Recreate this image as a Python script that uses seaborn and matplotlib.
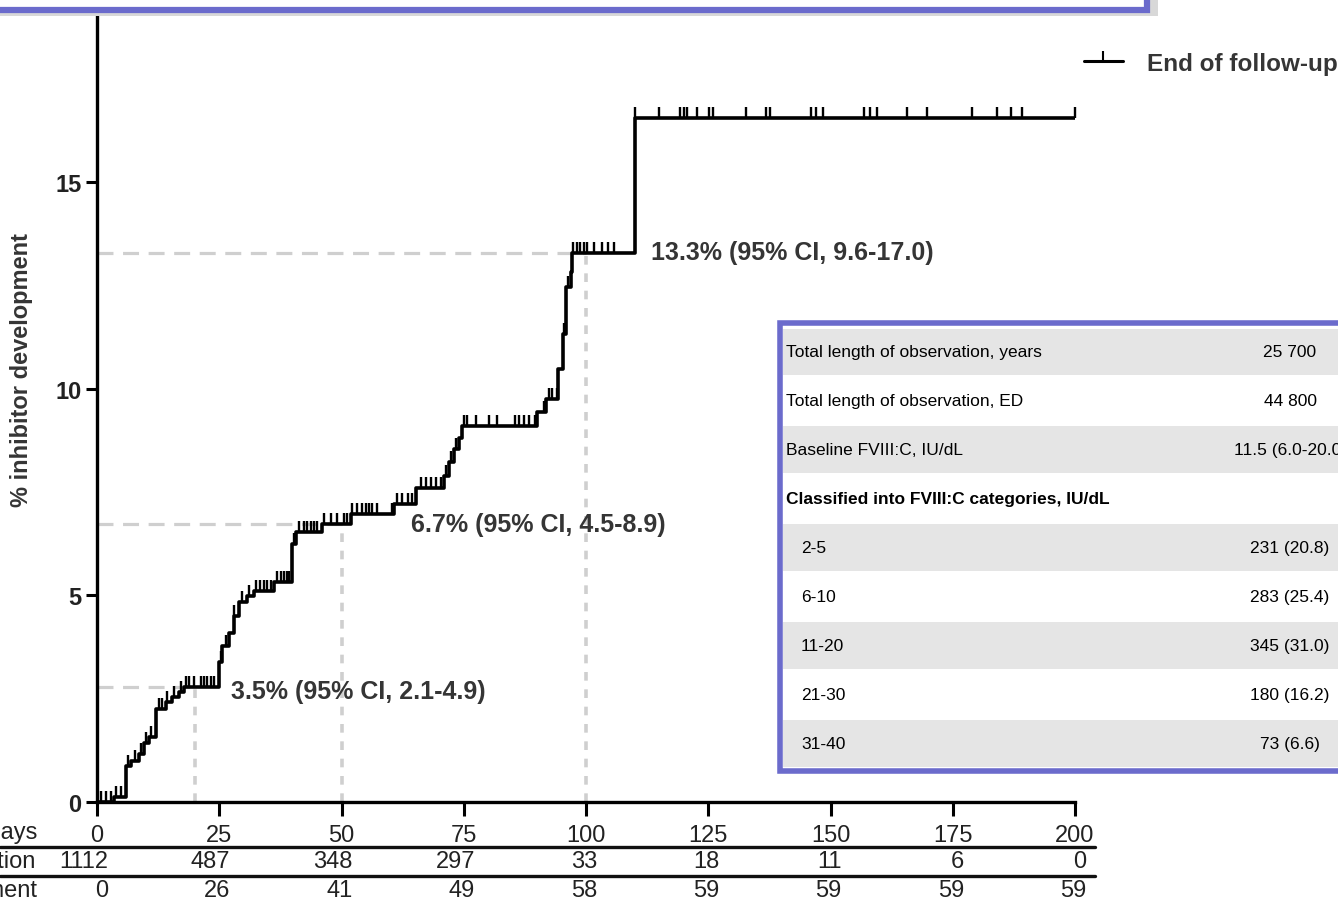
import numpy as np
import pandas as pd
import matplotlib
matplotlib.use("Agg")
import matplotlib.pyplot as plt
import seaborn as sns
from matplotlib.path import Path
from matplotlib.patches import Rectangle
from matplotlib.lines import Line2D
from matplotlib.transforms import blended_transform_factory

# ---- cumulative incidence of inhibitor development (% by exposure day) ----
event_days = [3.5, 5.9, 7.0, 8.6, 9.6, 10.6, 12.1, 14.1, 15.4, 16.8, 17.8,
              25.0, 25.6, 27.0, 28.0, 29.1, 30.7, 32.1, 36.2, 39.9, 40.7,
              46.1, 52.0, 60.8, 65.3, 71.0, 72.0, 73.0, 74.0, 74.7, 90.0,
              91.9, 94.2, 95.2, 96.0, 97.0, 97.2, 110.1]
cum_pct = [0.12, 0.88, 0.99, 1.16, 1.44, 1.57, 2.25, 2.41, 2.54, 2.66, 2.78,
           3.39, 3.78, 4.10, 4.50, 4.84, 4.99, 5.10, 5.32, 6.25, 6.53,
           6.73, 6.97, 7.21, 7.60, 7.90, 8.23, 8.55, 8.80, 9.11, 9.44,
           9.76, 10.48, 11.33, 12.47, 12.83, 13.30, 16.55]

# end of follow-up (censored patients)
censor_days = [0.8, 1.8, 2.9, 3.9, 4.9, 6.3, 7.8, 9.0, 10.0, 11.1, 12.7, 13.2,
               14.4, 15.8, 17.1, 18.2, 18.9, 19.9, 21.3, 21.9, 22.5, 23.3,
               23.9, 25.4, 26.4, 28.1, 29.6, 31.0, 32.6, 33.4, 34.2, 34.8,
               35.6, 36.8, 37.7, 38.3, 38.9, 39.3, 40.2, 41.4, 42.4, 43.0,
               43.8, 44.4, 45.0, 46.5, 47.9, 49.1, 50.6, 51.2, 52.2, 53.2,
               54.2, 55.1, 55.7, 56.3, 57.3, 60.4, 61.4, 62.4, 63.5, 64.5,
               66.3, 67.3, 68.4, 69.4, 70.4, 71.3, 72.3, 73.5, 75.1, 75.7,
               77.6, 80.2, 81.9, 85.4, 86.4, 87.4, 88.4, 89.5, 91.5, 92.5,
               93.1, 94.0, 95.6, 96.4, 97.4, 98.1, 98.8, 99.6, 100.3, 101.7,
               103.2, 104.6, 105.8, 110.1, 114.9, 119.3, 120.0, 120.7, 122.6,
               125.1, 125.9, 132.8, 136.8, 137.6, 146.0, 147.1, 148.5, 156.9,
               158.0, 159.5, 165.7, 169.8, 178.9, 184.0, 186.9, 189.1, 200.0]

guide_days = [20, 50, 100]
guide_labels = ["3.5% (95% CI, 2.1-4.9)",
                "6.7% (95% CI, 4.5-8.9)",
                "13.3% (95% CI, 9.6-17.0)"]

# ---- numbers below the x axis ----
day_ticks = [0, 25, 50, 75, 100, 125, 150, 175, 200]
in_observation = [1112, 487, 348, 297, 33, 18, 11, 6, 0]
with_inhibitor = [0, 26, 41, 49, 58, 59, 59, 59, 59]
row_titles = ["Exposure days", "Patients in observation",
              "Patients with inhibitor development"]

# ---- cohort summary box ----
table_labels = ["Total length of observation, years",
                "Total length of observation, ED",
                "Baseline FVIII:C, IU/dL",
                "Classified into FVIII:C categories, IU/dL",
                "2-5", "6-10", "11-20", "21-30", "31-40"]
table_values = ["25 700", "44 800", "11.5 (6.0-20.0)", "",
                "231 (20.8)", "283 (25.4)", "345 (31.0)", "180 (16.2)", "73 (6.6)"]

sns.set_theme(style="ticks")
plt.rcParams["font.family"] = ["Liberation Sans", "DejaVu Sans"]
NARROW = ["Liberation Sans Narrow", "Liberation Sans", "DejaVu Sans"]
PURPLE = "#6b6bcc"
INK = "#353535"
W, H = 1338, 903


def cum_at(t):
    t = np.atleast_1d(np.asarray(t, dtype=float))
    idx = np.searchsorted(event_days, t, side="right") - 1
    vals = np.asarray(cum_pct)[np.clip(idx, 0, None)]
    return np.where(idx >= 0, vals, 0.0)


fig = plt.figure(figsize=(W / 100, H / 100), dpi=100)
ax = fig.add_axes([97 / W, 1 - 803 / H, (1075 - 97) / W, (803 - 18) / H])

# step curve
curve = pd.DataFrame({"day": [0.0] + event_days + [200.0],
                      "pct": [0.0] + cum_pct + [cum_pct[-1]]})
sns.lineplot(data=curve, x="day", y="pct", drawstyle="steps-post",
             estimator=None, sort=False, color="black", lw=2.6, ax=ax,
             zorder=3)

# censor ticks pointing upward from the curve
tick_path = Path([(0, 0), (0, 1)], [Path.MOVETO, Path.LINETO])
ax.plot(censor_days, cum_at(censor_days), ls="none", marker=tick_path,
        ms=16, mew=1.7, color="black", zorder=4, clip_on=False)

# reference guides and their labels
label_offsets = [(7.5, -0.1), (14.3, 0.0), (13.3, 0.0)]
for d, txt, (dx, dy) in zip(guide_days, guide_labels, label_offsets):
    v = float(cum_at(d)[0])
    ax.plot([0, d], [v, v], color="#cfcfcf", lw=2.3, ls=(0, (5, 3)), zorder=1)
    ax.plot([d, d], [0, v], color="#cfcfcf", lw=2.6, ls=(0, (2.4, 2.4)),
            zorder=1)
    ax.text(d + dx, v + dy, txt, fontsize=18, fontweight="bold", color=INK,
            ha="left", va="center")

ax.set_xlim(0, 200)
ax.set_ylim(0, 19)
ax.set_xticks(day_ticks)
ax.set_xticklabels([str(d) for d in day_ticks], family=NARROW, fontsize=17,
                   color="#222222")
ax.set_yticks([0, 5, 10, 15])
ax.set_yticklabels(["0", "5", "10", "15"], fontsize=17, fontweight="bold",
                   color="#222222")
ax.tick_params(axis="x", bottom=True, length=10, width=2.2, pad=6,
               color="black")
ax.tick_params(axis="y", left=True, length=8, width=2.2, pad=3,
               color="black")
ax.set_xlabel("")
ax.set_ylabel("")
sns.despine(ax=ax)
for side in ("left", "bottom"):
    ax.spines[side].set_linewidth(2.4)
    ax.spines[side].set_color("black")

fig.text(22 / W, 1 - 370 / H, "% inhibitor development", rotation=90,
         ha="center", va="center", fontsize=17, fontweight="bold", color=INK)

# legend
leg_handle = Line2D([], [], color="black", lw=2.2, marker=tick_path, ms=14,
                    mew=1.5)
fig.legend(handles=[leg_handle], labels=["End of follow-up"],
           loc="center left", bbox_to_anchor=(1062 / W, 1 - 64 / H),
           frameon=False, handlelength=1.6, handletextpad=1.0,
           prop=dict(weight="bold", size=17.5), labelcolor=INK)

# numbers under the axis
bt = blended_transform_factory(ax.transData, fig.transFigure)
for d, n_obs, n_inh in zip(day_ticks, in_observation, with_inhibitor):
    ax.text(d + 2.3, 1 - 862 / H, str(n_obs), transform=bt, ha="right",
            va="center", family=NARROW, fontsize=17, color="#222222")
    ax.text(d + 2.3, 1 - 891 / H, str(n_inh), transform=bt, ha="right",
            va="center", family=NARROW, fontsize=17, color="#222222")
for title, yp, xr in zip(row_titles, (833, 862, 891), (37, 35, 37)):
    fig.text(xr / W, 1 - yp / H, title, ha="right", va="center",
             family=NARROW, fontsize=17, color="#222222")
for yp in (848, 877):
    fig.add_artist(Line2D([0, 1095 / W], [1 - yp / H, 1 - yp / H],
                          transform=fig.transFigure, color="#111111",
                          lw=2.4))

# title banner across the top
fig.patches.append(Rectangle((-0.02, 1 - 17 / H), (1158 / W) + 0.02, 0.1,
                             transform=fig.transFigure, fc="#d8d8d8",
                             ec="none", zorder=9))
fig.patches.append(Rectangle((-0.02, 1 - 11 / H), (1147 / W) + 0.02, 0.1,
                             transform=fig.transFigure, fc="white",
                             ec=PURPLE, lw=4.5, zorder=10))

# cohort summary box
tax = fig.add_axes([774 / W, 1 - 778 / H, (1360 - 774) / W, (778 - 318) / H],
                   zorder=6)
tax.set_xlim(774, 1360)
tax.set_ylim(778, 318)
tax.axis("off")
tax.add_patch(Rectangle((780, 324), 600, 448, fc="white", ec=PURPLE, lw=4.0,
                        zorder=3))
row_top, row_h = 328.5, 48.9
for i, (lab, val) in enumerate(zip(table_labels, table_values)):
    y0 = row_top + i * row_h
    if i % 2 == 0:
        tax.add_patch(Rectangle((783, y0 + 1), 600, row_h - 2, fc="#e5e5e5",
                                ec="none", zorder=4))
    xl = 786 if i < 4 else 801
    tax.text(xl, y0 + row_h / 2, lab, ha="left", va="center", family=NARROW,
             fontsize=12.5, color="black", zorder=5,
             fontweight="bold" if i == 3 else "normal")
    if val:
        tax.text(1290, y0 + row_h / 2, val, ha="center", va="center",
                 family=NARROW, fontsize=12.5, color="black", zorder=5)

fig.savefig("out.png", dpi=100)
